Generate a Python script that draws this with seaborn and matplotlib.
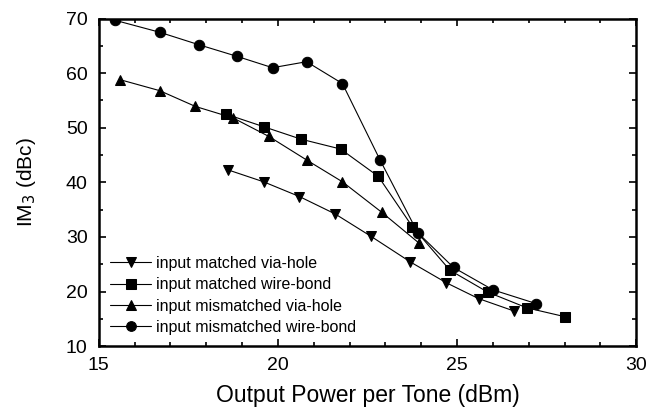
import numpy as np
import pandas as pd
import matplotlib
matplotlib.use("Agg")
import matplotlib.pyplot as plt
from matplotlib.ticker import MultipleLocator
import seaborn as sns

sns.set_theme(style="ticks")
plt.rcParams['font.family'] = ['Liberation Sans', 'DejaVu Sans']
plt.rcParams['text.color'] = 'black'
plt.rcParams['axes.labelcolor'] = 'black'

names = ["input matched via-hole", "input matched wire-bond",
         "input mismatched via-hole", "input mismatched wire-bond"]

x_mvh = [18.6, 19.6, 20.6, 21.6, 22.6, 23.7, 24.7, 25.6, 26.6]
y_mvh = [42.3, 40.1, 37.4, 34.2, 30.1, 25.4, 21.6, 18.7, 16.4]

x_mwb = [18.55, 19.6, 20.65, 21.75, 22.8, 23.75, 24.8, 25.85, 26.95, 28.0]
y_mwb = [52.5, 50.2, 47.9, 46.1, 41.1, 31.9, 23.9, 19.9, 17.0, 15.4]

x_xvh = [15.6, 16.7, 17.7, 18.75, 19.75, 20.8, 21.8, 22.9, 23.95]
y_xvh = [58.8, 56.8, 53.9, 51.8, 48.4, 44.1, 40.1, 34.5, 28.8]

x_xwb = [15.45, 16.7, 17.8, 18.85, 19.85, 20.8, 21.8, 22.85, 23.9, 24.9, 26.0, 27.2]
y_xwb = [69.7, 67.5, 65.2, 63.1, 61.0, 62.1, 58.1, 44.1, 30.8, 24.4, 20.3, 17.8]

xs = [x_mvh, x_mwb, x_xvh, x_xwb]
ys = [y_mvh, y_mwb, y_xvh, y_xwb]
frames = []
for n, xx, yy in zip(names, xs, ys):
    frames.append(pd.DataFrame({"x": xx, "y": yy, "series": n}))
df = pd.concat(frames, ignore_index=True)

markers = {names[0]: "v", names[1]: "s", names[2]: "^", names[3]: "o"}
palette = {n: "black" for n in names}

fig, ax = plt.subplots(figsize=(6.58, 4.13), dpi=100)
fig.subplots_adjust(left=0.15, right=0.967, top=0.955, bottom=0.162)

sns.lineplot(data=df, x="x", y="y", hue="series", style="series",
             markers=markers, dashes=False, palette=palette, sort=False,
             estimator=None, linewidth=0.8, markersize=7.5,
             markeredgecolor="black", ax=ax)

ax.set_xlim(15, 30)
ax.set_ylim(10, 70)
ax.xaxis.set_major_locator(MultipleLocator(5))
ax.xaxis.set_minor_locator(MultipleLocator(1))
ax.yaxis.set_major_locator(MultipleLocator(10))
ax.yaxis.set_minor_locator(MultipleLocator(5))
ax.tick_params(which="both", direction="in", top=True, right=True,
               labelsize=14, colors="black", width=1.2)
ax.tick_params(which="major", length=5)
ax.tick_params(which="minor", length=3)
ax.tick_params(axis="x", which="major", pad=8)
ax.tick_params(axis="y", which="major", pad=8)
for s in ax.spines.values():
    s.set_linewidth(1.8)
    s.set_color("black")

ax.set_xlabel("Output Power per Tone (dBm)", fontsize=16.5, labelpad=7, color="black")
ax.set_ylabel("IM$_3$ (dBc)", fontsize=15, labelpad=20, color="black")

leg = ax.legend(loc="lower left", frameon=False, fontsize=11.5,
                handlelength=2.6, handletextpad=0.3, labelspacing=0.4,
                borderaxespad=0.3, bbox_to_anchor=(0.0, 0.0))
for t in leg.get_texts():
    t.set_color("black")
for h in leg.legend_handles:
    h.set_markersize(7)

fig.savefig("out.png", dpi=100)
